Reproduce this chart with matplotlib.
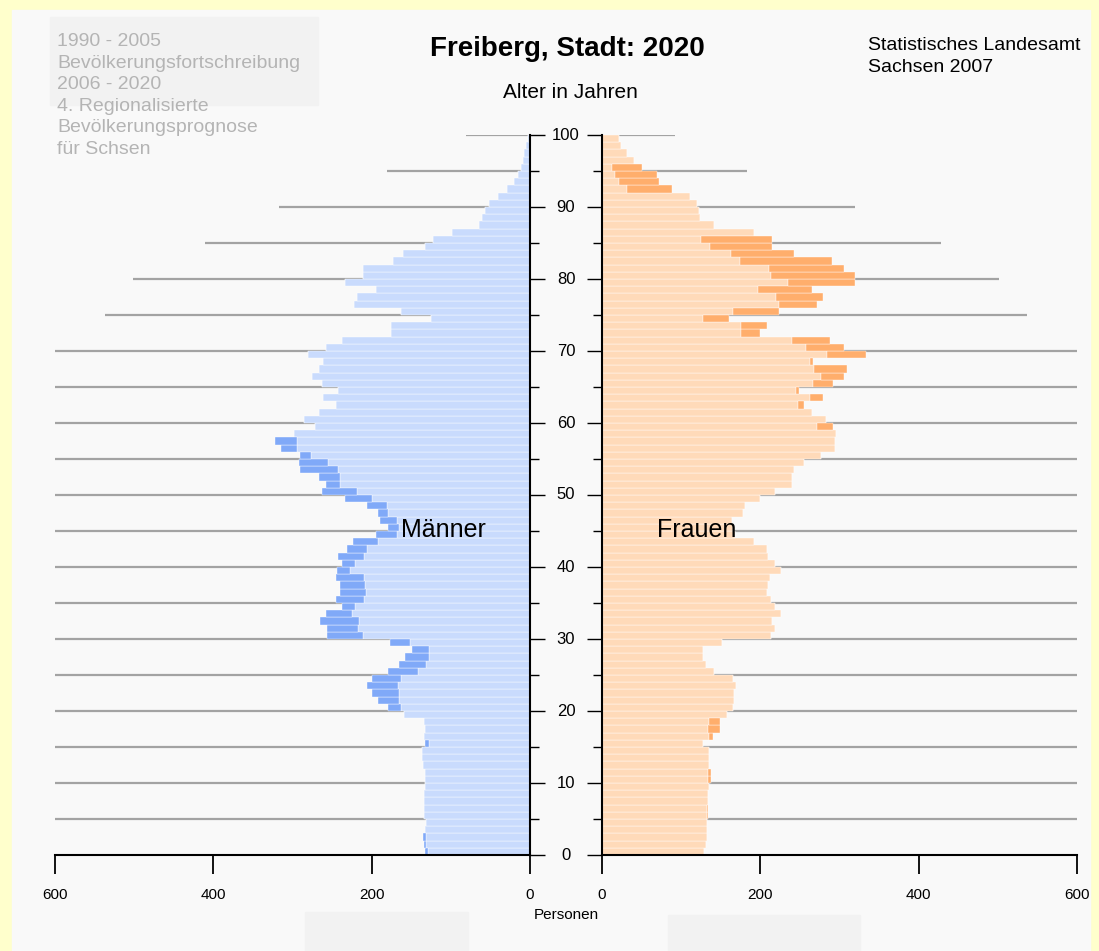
import matplotlib
matplotlib.use("Agg")
import matplotlib.pyplot as plt
from matplotlib.patches import Rectangle
from matplotlib.transforms import blended_transform_factory
import numpy as np

plt.rcParams["font.family"] = ["Liberation Sans", "DejaVu Sans"]

# Alter 0..99 (Balken von a bis a+1)
ages = np.arange(100)

maenner = [133, 134, 135, 133, 132, 134, 134, 134, 134, 133,
           133, 133, 135, 136, 136, 133, 134, 133, 134, 159,
           179, 192, 200, 206, 199, 180, 165, 158, 149, 177,
           256, 256, 265, 258, 238, 245, 240, 240, 245, 244,
           238, 243, 231, 224, 195, 180, 189, 192, 206, 234,
           263, 258, 267, 290, 292, 290, 315, 322, 298, 272,
           285, 267, 245, 261, 243, 263, 275, 267, 261, 281,
           258, 238, 175, 175, 125, 163, 222, 218, 195, 234,
           211, 211, 173, 161, 133, 122, 98, 65, 61, 57,
           52, 41, 29, 20, 15, 12, 9, 7, 5, 3]

# heller Teil der Maennerbalken (darueber dunkel)
maenner_hell = [129, 131, 132, 133, 132, 134, 134, 134, 134, 133,
                133, 133, 135, 136, 136, 127, 134, 133, 134, 159,
                163, 166, 166, 167, 163, 142, 131, 127, 127, 151,
                211, 217, 216, 225, 221, 210, 207, 208, 210, 227,
                221, 210, 206, 192, 168, 166, 168, 179, 181, 199,
                218, 240, 240, 242, 255, 277, 294, 294, 298, 272,
                285, 267, 245, 261, 243, 263, 275, 267, 261, 281,
                258, 238, 175, 175, 125, 163, 222, 218, 195, 234,
                211, 211, 173, 161, 133, 122, 98, 65, 61, 57,
                52, 41, 29, 20, 15, 12, 9, 7, 5, 3]

frauen = [129, 131, 132, 133, 133, 134, 134, 134, 134, 135,
          138, 138, 135, 135, 135, 127, 140, 149, 149, 158,
          165, 167, 167, 169, 165, 142, 131, 127, 127, 151,
          213, 219, 215, 226, 219, 213, 209, 210, 212, 226,
          219, 210, 208, 192, 168, 166, 164, 178, 181, 199,
          218, 240, 240, 242, 255, 277, 294, 294, 296, 292,
          283, 265, 255, 279, 249, 292, 306, 310, 267, 333,
          306, 288, 199, 208, 161, 224, 272, 279, 265, 320,
          320, 306, 290, 242, 215, 215, 192, 141, 124, 122,
          120, 111, 88, 72, 70, 51, 40, 31, 24, 22]

frauen_hell = [129, 131, 132, 133, 133, 133, 133, 134, 134, 135,
               134, 134, 135, 135, 135, 127, 135, 134, 135, 158,
               165, 167, 167, 169, 165, 142, 131, 127, 127, 151,
               213, 219, 215, 226, 219, 213, 209, 210, 212, 226,
               219, 210, 208, 192, 168, 166, 164, 178, 181, 199,
               218, 240, 240, 242, 255, 277, 294, 294, 296, 272,
               283, 265, 247, 263, 245, 266, 277, 268, 263, 284,
               258, 240, 176, 176, 127, 165, 224, 220, 197, 235,
               213, 211, 174, 163, 136, 125, 192, 141, 124, 122,
               120, 111, 31, 22, 17, 13, 40, 31, 24, 22]

# Hilfslinien alle 5 Jahre, Laenge je Seite
linien_alter = [5, 10, 15, 20, 25, 30, 35, 40, 45, 50, 55, 60, 65, 70,
                75, 80, 85, 90, 95, 100]
linien_links = [600] * 14 + [537, 501, 410, 317, 181, 81]
linien_rechts = [600] * 14 + [537, 501, 428, 319, 183, 92]

x_ticks = [0, 200, 400, 600]
y_labels = [0, 10, 20, 30, 40, 50, 60, 70, 80, 90, 100]

BLAU_HELL = "#C9DBFD"
BLAU_DUNKEL = "#80A9F8"
ORANGE_HELL = "#FFDAB9"
ORANGE_DUNKEL = "#FFAE6C"
LINIE = "#a3a3a3"

W, H = 1099, 951
fig = plt.figure(figsize=(W / 100, H / 100), dpi=100, facecolor="#FFFFCC")

# heller Hintergrund und graue Kaesten
fig.patches.append(Rectangle((12 / W, 0), (1090 - 12) / W, 1 - 10 / H,
                             transform=fig.transFigure, color="#F9F9F9", zorder=-10))
for (x0, y0, x1, y1) in [(50, 17, 318, 105), (305, 912, 468, 951), (668, 915, 860, 951)]:
    fig.patches.append(Rectangle((x0 / W, 1 - y1 / H), (x1 - x0) / W, (y1 - y0) / H,
                                 transform=fig.transFigure, color="#F2F2F2", zorder=-9))

bottom = 1 - 855 / H
height = 720 / H
ax_m = fig.add_axes([55 / W, bottom, 475 / W, height])
ax_f = fig.add_axes([602 / W, bottom, 475 / W, height])

m = np.array(maenner)
mh = np.array(maenner_hell)
f = np.array(frauen)
fh = np.array(frauen_hell)

ax_m.hlines(linien_alter, 0, linien_links, color=LINIE, lw=1.6, zorder=1)
ax_f.hlines(linien_alter, 0, linien_rechts, color=LINIE, lw=1.6, zorder=1)

kw = dict(height=1.0, align="edge", edgecolor=(1, 1, 1, 0.8), linewidth=0.35, zorder=2)
ax_m.barh(ages, mh, color=BLAU_HELL, **kw)
ax_m.barh(ages, m - mh, left=mh, color=BLAU_DUNKEL, **kw)
ax_f.barh(ages, fh, color=ORANGE_HELL, **kw)
ax_f.barh(ages, f - fh, left=fh, color=ORANGE_DUNKEL, **kw)

for ax in (ax_m, ax_f):
    ax.set_facecolor("none")
    ax.set_ylim(0, 100)
    ax.set_xticks(x_ticks)
    ax.set_xticklabels([str(v) for v in x_ticks], fontsize=11)
    ax.tick_params(axis="x", direction="out", length=14, width=1.3, pad=10)
    ax.set_yticks(y_labels)
    ax.set_yticks(linien_alter, minor=True)
    ax.spines["top"].set_visible(False)
    ax.spines["bottom"].set_linewidth(1.5)

ax_m.set_xlim(600, 0)
ax_f.set_xlim(0, 600)

ax_m.spines["left"].set_visible(False)
ax_m.spines["right"].set_linewidth(1.5)
ax_m.yaxis.tick_right()
ax_m.tick_params(axis="y", which="major", length=11, width=1.0, labelright=False)
ax_m.tick_params(axis="y", which="minor", length=6.5, width=1.0)

ax_f.spines["right"].set_visible(False)
ax_f.spines["left"].set_linewidth(1.5)
ax_f.tick_params(axis="y", which="major", length=11, width=1.0, labelleft=False)
ax_f.tick_params(axis="y", which="minor", length=6.5, width=1.0)

tr = blended_transform_factory(fig.transFigure, ax_f.transData)
for v in y_labels:
    fig.text(566 / W, v, str(v), transform=tr, ha="center", va="center", fontsize=12)

ax_m.text(109, 45.1, "Männer", ha="center", va="center", fontsize=18, zorder=5)
ax_f.text(119, 45.1, "Frauen", ha="center", va="center", fontsize=18, zorder=5)

fig.text(567 / W, 1 - 49 / H, "Freiberg, Stadt: 2020", ha="center", va="center",
         fontsize=20, fontweight="bold")
fig.text(570 / W, 1 - 93 / H, "Alter in Jahren", ha="center", va="center", fontsize=15)
fig.text(868 / W, 1 - 37 / H, "Statistisches Landesamt\nSachsen 2007", ha="left", va="top",
         fontsize=14, linespacing=1.38)
fig.text(57 / W, 1 - 33 / H,
         "1990 - 2005\nBevölkerungsfortschreibung\n2006 - 2020\n4. Regionalisierte\n"
         "Bevölkerungsprognose\nfür Schsen",
         ha="left", va="top", fontsize=14, color="#b4b4b4", linespacing=1.35)
fig.text(566 / W, 1 - 915 / H, "Personen", ha="center", va="center", fontsize=11)

fig.savefig("out.png", dpi=100, facecolor=fig.get_facecolor())
